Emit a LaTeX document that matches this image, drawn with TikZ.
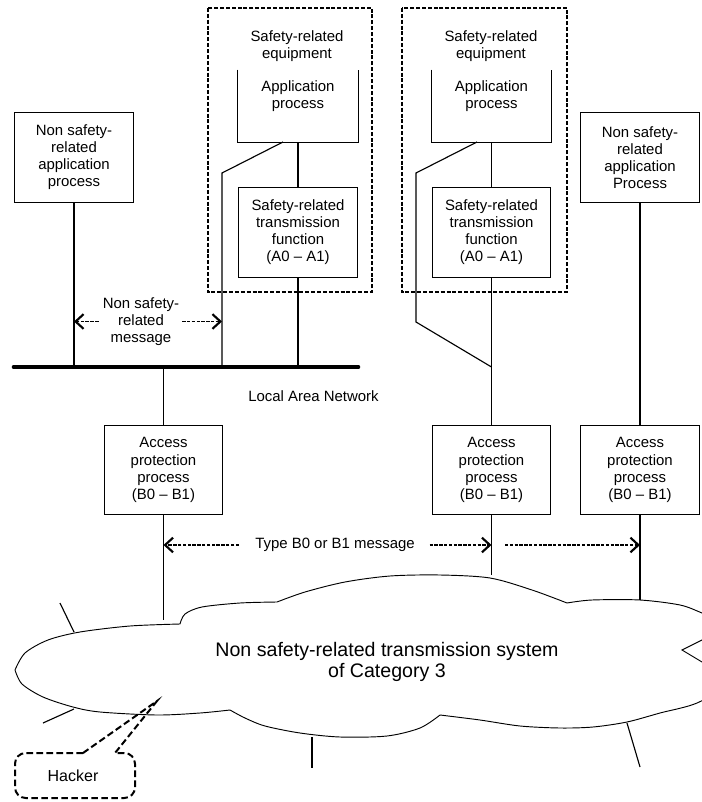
\documentclass[tikz,border=0pt]{standalone}
\usepackage{fontspec}
\setmainfont{Liberation Sans}
\usetikzlibrary{arrows.meta,calc}
\begin{document}
\begin{tikzpicture}[x=0.75pt,y=-0.75pt,
  every node/.style={font=\fontsize{11.2}{12.8}\selectfont, align=center, inner sep=0pt},
  box/.style={draw, line width=0.9pt, minimum width=89pt, minimum height=67pt},
  upan/.style={minimum width=90pt, minimum height=54pt},
  wire/.style={line width=0.85pt},
  lan/.style={line width=3.5pt, line cap=round},
  group/.style={line width=1.9pt, dash pattern=on 3pt off 1.4pt},
  hk/.style={line width=1.5pt, dash pattern=on 5pt off 2.5pt},
  cloudline/.style={line width=0.7pt},
  msg/.style={line width=1.3pt, dash pattern=on 2.6pt off 1pt,
    -{Straight Barb[length=6pt,width=11pt,line width=1.6pt]}},
]
\useasboundingbox (0,0) rectangle (702,802);
\clip (0,0) rectangle (702,802);

% ---------- stations above the LAN ----------
\node[box] (ns1) at (74,157.5) {Non safety-\\related\\application\\process};
\node[box] (ns2) at (640,157.5) {Non safety-\\related\\application\\Process};

% safety-related equipment, left
\draw[group] (208,8) rectangle (372,292);
\node (eq1) at (297,46) {Safety-related\\equipment};
\node[upan] (app1) at (298,106) {};
\draw[wire] (app1.north west) -- (app1.south west) -- (app1.south east) -- (app1.north east);
\node (app1t) at (298,96) {Application\\process};
\node[box] (tx1) at (298,232.5) {Safety-related\\transmission\\function\\(A0 -- A1)};

% safety-related equipment, right
\draw[group] (402,8) rectangle (567,292);
\node (eq2) at (491,46) {Safety-related\\equipment};
\node[upan] (app2) at (491.5,106) {};
\draw[wire] (app2.north west) -- (app2.south west) -- (app2.south east) -- (app2.north east);
\node (app2t) at (491.5,96) {Application\\process};
\node[box] (tx2) at (491.5,232.5) {Safety-related\\transmission\\function\\(A0 -- A1)};

% ---------- local area network ----------
\coordinate (lanL) at (14,367);
\coordinate (lanR) at (358,367);
\draw[lan] (lanL) -- (lanR);
\node[anchor=west] (lanlbl) at (248,396) {Local Area Network};

% ---------- access protection ----------
\node[box] (acc1) at (163.5,470) {Access\\protection\\process\\(B0 -- B1)};
\node[box] (acc2) at (491.5,470) {Access\\protection\\process\\(B0 -- B1)};
\node[box] (acc3) at (640,470) {Access\\protection\\process\\(B0 -- B1)};

% ---------- connections ----------
\coordinate (d1a) at (283,142);
\coordinate (d1b) at (222,173);
\coordinate (d2a) at (477,142);
\coordinate (d2b) at (416,173);
\coordinate (d2c) at (416,322);
\coordinate (d2d) at (491.5,367);
\coordinate (cl1) at (163.5,620);
\coordinate (cl2) at (491.5,575);
\coordinate (cl3) at (640,600);

\draw[wire] (ns1.south) -- (ns1.south |- lanL);
\draw[wire] (app1.south) -- (tx1.north);
\draw[wire] (tx1.south) -- (tx1.south |- lanL);
\draw[wire] (d1a) -- (d1b) -- (d1b |- lanL);
\draw[wire] (acc1.north |- lanL) -- (acc1.north);
\draw[wire] (acc1.south) -- (cl1);

\draw[wire] (app2.south) -- (tx2.north);
\draw[wire] (tx2.south) -- (acc2.north);
\draw[wire] (d2a) -- (d2b) -- (d2c) -- (d2d);
\draw[wire] (acc2.south) -- (cl2);

\draw[wire] (ns2.south) -- (acc3.north);
\draw[wire] (acc3.south) -- (cl3);

% ---------- messages ----------
\node (nsmsg) at (141,321.5) {Non safety-\\related\\message};
\draw[msg] ([xshift=-3pt]nsmsg.west) -- (ns1.south |- nsmsg.west);
\draw[msg] ([xshift=2pt]nsmsg.east) -- (d1b |- nsmsg.east);

\node (bmsg) at (335,545) {Type B0 or B1 message};
\coordinate (b2s) at (505,545);
\draw[msg] ([xshift=-12pt]bmsg.west) -- (acc1.south |- bmsg.west);
\draw[msg] ([xshift=11pt]bmsg.east) -- (acc2.south |- bmsg.east);
\draw[msg] (b2s) -- (acc3.south |- b2s);

% ---------- transmission system cloud ----------
\draw[cloudline]
  plot[smooth] coordinates {(15,670) (25,653) (48,640) (80,632) (130,626) (180,624)}
  -- plot[smooth] coordinates {(180,624) (185,614) (202,607) (240,603) (277,602)}
  -- plot[smooth] coordinates {(277,602) (305,592) (345,582) (390,576) (440,575) (490,578) (532,590) (567,603)}
  -- plot[smooth] coordinates {(567,603) (592,600) (640,600) (680,605) (702,613) (730,625)}
  -- (702,640) -- (682,650) -- (702,662)
  -- plot[smooth] coordinates {(702,662) (730,682) (697,703) (660,713) (627,722) (593,727) (560,728) (520,726) (480,720) (440,715)}
  -- plot[smooth] coordinates {(440,715) (420,728) (387,736) (340,737) (300,733) (265,726) (245,718) (230,710)}
  -- plot[smooth] coordinates {(230,710) (200,713) (157,715) (100,712) (73,707) (43,697) (22,684) (15,670)}
  -- cycle;
\node[font=\fontsize{14.7}{16}\selectfont] (net) at (387,662)
  {Non safety-related transmission system\\of Category 3};

% stubs of further stations on the transmission system
\coordinate (s1a) at (60,603);   \coordinate (s1b) at (74,632);
\coordinate (s2a) at (74,709);   \coordinate (s2b) at (43,723);
\coordinate (s3a) at (312,737);  \coordinate (s3b) at (312,768);
\coordinate (s4a) at (627,723);  \coordinate (s4b) at (640,767);
\draw[wire] (s1a) -- (s1b);
\draw[wire] (s2a) -- (s2b);
\draw[wire] (s3a) -- (s3b);
\draw[wire] (s4a) -- (s4b);

% ---------- hacker ----------
\node[font=\fontsize{12}{14}\selectfont] (hacker) at (73,776) {Hacker};
\coordinate (hktip) at (157,701);
\draw[hk] (83,753) -- (hktip) -- (115,753) [rounded corners=8pt]
  -- (135,753) -- (135,798) -- (15,798) -- (15,753) -- (83,753);
\end{tikzpicture}
\end{document}
